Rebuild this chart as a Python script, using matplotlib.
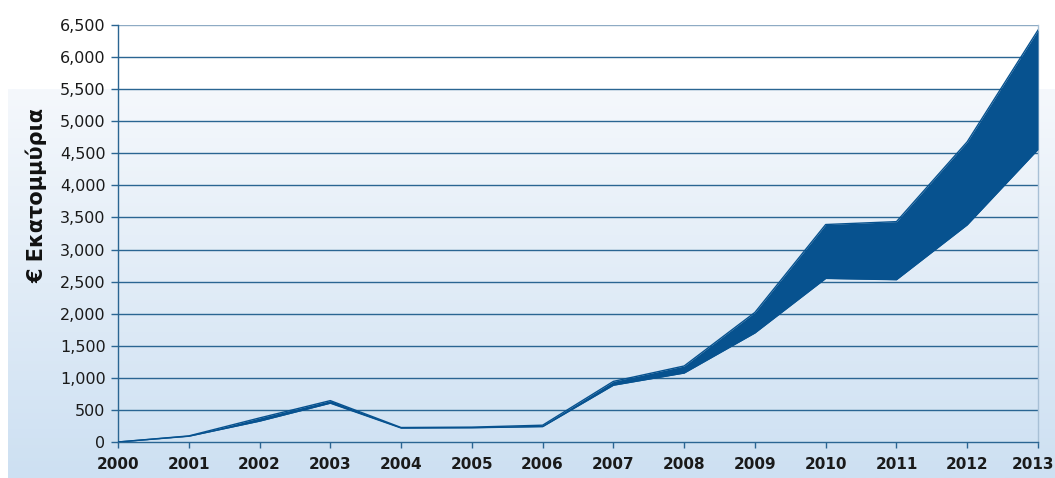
import numpy as np
import matplotlib
matplotlib.use("Agg")
import matplotlib.pyplot as plt
import matplotlib.transforms as mtransforms
from matplotlib.ticker import FuncFormatter
from matplotlib.colors import LinearSegmentedColormap

years = [2000, 2001, 2002, 2003, 2004, 2005, 2006, 2007, 2008, 2009, 2010, 2011, 2012, 2013]
lower = [0, 90, 325, 605, 218, 222, 240, 885, 1075, 1700, 2550, 2530, 3385, 4560]
upper = [0, 95, 375, 645, 226, 232, 262, 945, 1185, 2020, 3390, 3435, 4680, 6420]
y_ticks = list(range(0, 6501, 500))
y_label = "€ Εκατομμύρια"

W, H = 1055, 478
fig = plt.figure(figsize=(W / 100, H / 100), dpi=100)
fig.patch.set_facecolor("white")

# background gradient panel
bg = fig.add_axes([8 / W, 0, 1 - 8 / W, 1 - 89 / H], zorder=0)
grad = np.linspace(0, 1, 256).reshape(-1, 1)
cmap = LinearSegmentedColormap.from_list("bg", ["#f5f8fc", "#cde0f2"])
bg.imshow(grad, aspect="auto", cmap=cmap, extent=[0, 1, 0, 1], origin="upper")
bg.set_axis_off()

ax = fig.add_axes([118 / W, 1 - 442 / H, (1038 - 118) / W, (442 - 25) / H], zorder=1)
ax.set_facecolor("none")

band_color = "#07528f"
ax.fill_between(years, lower, upper, color=band_color, linewidth=0, zorder=3)
ax.plot(years, lower, color=band_color, lw=1.0, zorder=3)
ax.plot(years, upper, color=band_color, lw=1.0, zorder=3)

ax.set_xlim(2000, 2013)
ax.set_ylim(0, 6500)
ax.set_yticks(y_ticks)
ax.set_xticks(years)
ax.yaxis.set_major_formatter(FuncFormatter(lambda v, p: f"{int(v):,}"))

grid_color = "#2a6592"
for v in y_ticks[1:]:
    ax.axhline(v, color=grid_color if v < 6500 else "#8eabc4", lw=1.0, zorder=2)

ax.spines["top"].set_visible(False)
ax.spines["left"].set_color("#2a6592")
ax.spines["bottom"].set_color("#2a6592")
ax.spines["right"].set_color("#a8c0d6")
for s in ["left", "bottom", "right"]:
    ax.spines[s].set_linewidth(1.0)

ax.tick_params(axis="y", length=5, width=1, color="#2a6592", pad=4, labelsize=11.5, labelcolor="#1a1a1a")
ax.tick_params(axis="x", length=4, width=1, color="#2a6592", pad=7, labelsize=11, labelcolor="#1a1a1a")
xlabels = ax.get_xticklabels()
for lab in xlabels:
    lab.set_fontweight("semibold")
# keep the last year label inside the canvas
xlabels[-1].set_transform(xlabels[-1].get_transform() +
                          mtransforms.ScaledTranslation(-5 / 100, 0, fig.dpi_scale_trans))

fig.text(37 / W, 1 - 195 / H, y_label, rotation=90, ha="center", va="center",
         fontsize=15, fontweight="bold", color="#111111",
         family=["Liberation Sans Narrow", "DejaVu Sans"])

fig.savefig("out.png", dpi=100, facecolor="white")
